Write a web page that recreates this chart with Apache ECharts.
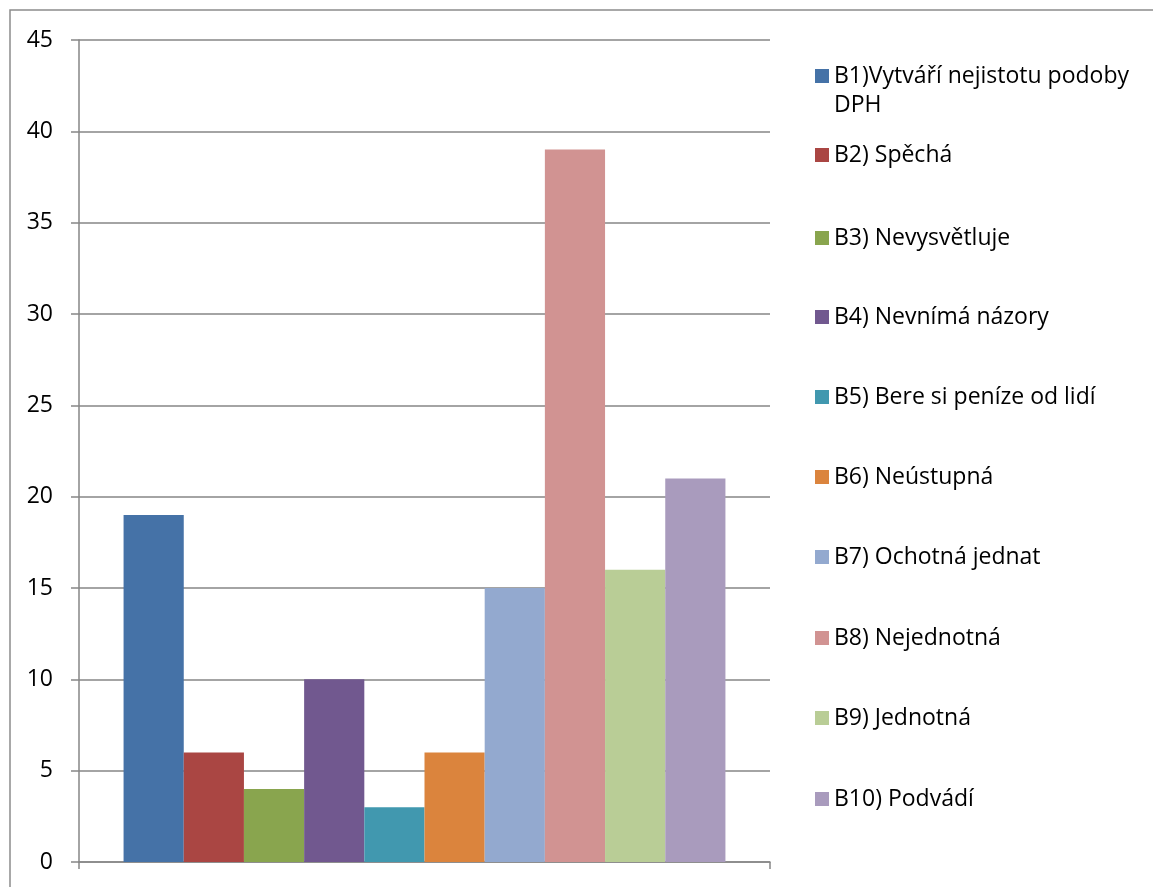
<!DOCTYPE html>
<html>
<head>
<meta charset="utf-8">
<script src="https://cdn.jsdelivr.net/npm/echarts@6/dist/echarts.min.js"></script>
<style>html,body{margin:0;padding:0;background:#fff}#c{width:1153px;height:887px}</style>
</head>
<body>
<div id="c"></div>
<script>
const categories = [''];
const seriesNames = [
  'B1)Vytváří nejistotu podoby DPH',
  'B2) Spěchá',
  'B3) Nevysvětluje',
  'B4) Nevnímá názory',
  'B5) Bere si peníze od lidí',
  'B6) Neústupná',
  'B7) Ochotná jednat',
  'B8) Nejednotná',
  'B9) Jednotná',
  'B10) Podvádí'
];
const seriesValues = [19, 6, 4, 10, 3, 6, 15, 39, 16, 21];
const colors = ['#4572A7','#AA4643','#89A54E','#71588F','#4198AF','#DB843D','#93A9CF','#D19392','#B9CD96','#A99BBD'];
const legendCenters = [76, 155, 238, 317, 397, 477, 557, 638, 718, 799];

const FONT = 'Open Sans';
const FS = 23;
const LH = 29;

const chart = echarts.init(document.getElementById('c'), null, {renderer: 'canvas'});

const legends = seriesNames.map((n, i) => {
  const isFirst = i === 0;
  return {
    orient: 'vertical',
    left: 815,
    top: isFirst ? legendCenters[i] - LH * 1.5 : legendCenters[i] - LH / 2,
    padding: 0,
    itemWidth: 14,
    itemHeight: 14,
    icon: 'rect',
    selectedMode: false,
    data: [n],
    formatter: isFirst ? function () { return ' \nB1)Vytváří nejistotu podoby\nDPH'; } : undefined,
    textStyle: {
      fontFamily: FONT, fontSize: FS, color: '#000', lineHeight: LH
    }
  };
});

chart.setOption({
  animation: false,
  color: colors,
  textStyle: {fontFamily: FONT},
  graphic: [{
    type: 'rect', shape: {x: 10, y: 10, width: 1200, height: 1000},
    style: {fill: 'none', stroke: '#8c8c8c', lineWidth: 1.5}, silent: true
  }],
  legend: legends,
  grid: {left: 79, right: 383, top: 40, bottom: 25, containLabel: false},
  xAxis: {
    type: 'category', data: categories,
    axisLine: {lineStyle: {color: '#868686', width: 1.5}},
    axisTick: {show: true, length: 7, lineStyle: {color: '#868686', width: 1.5}},
    axisLabel: {show: false}
  },
  yAxis: {
    type: 'value', min: 0, max: 45, interval: 5,
    axisLine: {show: true, lineStyle: {color: '#868686', width: 1.5}},
    axisTick: {show: true, length: 8, lineStyle: {color: '#868686', width: 1.5}},
    axisLabel: {fontFamily: FONT, fontSize: FS, color: '#000', margin: 26},
    splitLine: {lineStyle: {color: '#868686', width: 1.5}}
  },
  series: seriesNames.map((n, i) => ({
    name: n, type: 'bar', data: [seriesValues[i]],
    barGap: 0, barCategoryGap: '12.9%',
    itemStyle: {color: colors[i]}
  }))
});
</script>
</body>
</html>
